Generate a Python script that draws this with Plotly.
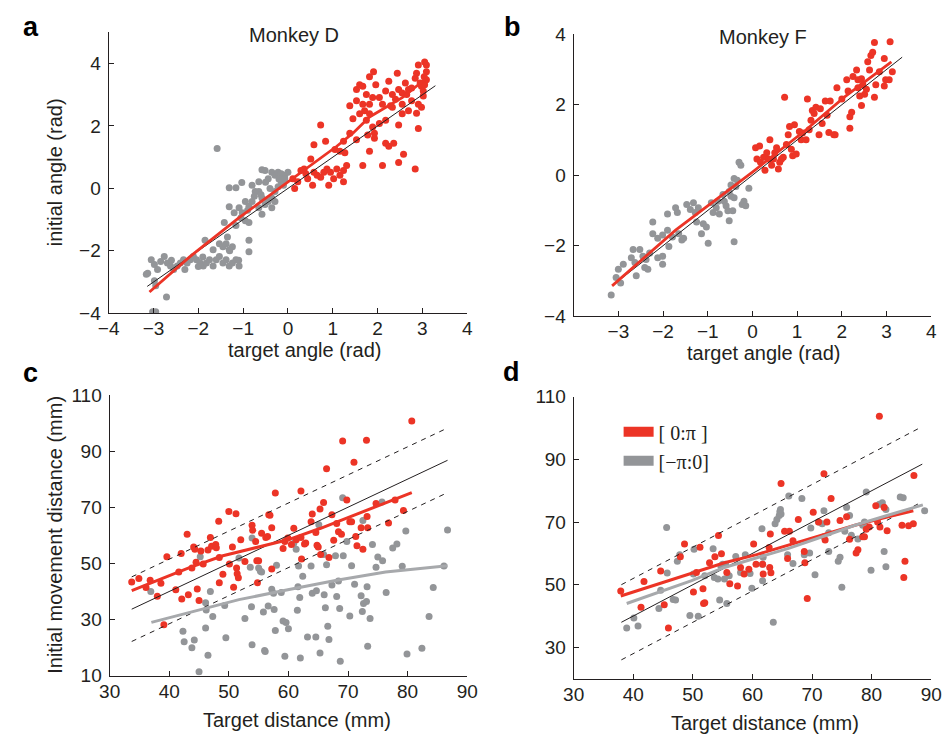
import plotly.graph_objects as go

# ---------------- Panel a (Monkey D, angles) ----------------
a_gray_x = [-1.58,-3.13,-3.16,-3.05,-2.98,-2.91,-2.84,-2.76,-2.69,-2.62,-2.55,-2.47,-2.40,-2.33,-2.25,-2.18,-2.11,-2.04,-1.96,-1.89,
            -1.82,-1.75,-1.67,-1.60,-1.53,-1.45,-1.38,-1.31,-1.24,-1.16,-1.09,-2.98,-2.95,-2.71,-3.02,-2.95,-1.85,-1.67,-1.53,-1.45,
            -1.38,-1.35,-1.31,-1.24,-1.42,-1.31,-1.20,-1.09,-1.02,-1.16,-1.05,-0.95,-0.87,-0.87,-0.87,-1.31,-1.16,-1.03,-0.80,-0.65,
            -0.58,-0.51,-0.44,-0.36,-0.29,-0.22,-0.15,-0.07,0.00,-0.65,-0.58,-0.51,-0.44,-0.36,-0.29,-0.22,-0.15,-0.07,-0.73,-0.80,
            -0.87,-0.65,-0.58,-0.36,-0.29,-0.95,-2.30,-2.00,-1.90,-1.30,-1.10,-2.60,-0.50,-0.40,-0.60,-0.20,-0.10,-0.75,-0.90]
a_gray_y = [1.28,-2.72,-2.75,-2.29,-2.44,-2.60,-2.34,-2.18,-2.39,-2.49,-2.60,-2.49,-2.39,-2.29,-2.39,-2.29,-2.18,-2.29,-2.39,-2.49,
            -2.39,-2.29,-2.49,-2.29,-2.18,-2.39,-2.29,-2.49,-2.39,-2.29,-2.49,-2.96,-3.12,-3.48,-3.95,-3.95,-1.66,-1.97,-1.77,-1.87,
            -1.77,-1.56,-1.97,-1.87,-1.09,-0.59,-0.78,-0.62,-0.78,-1.19,-0.94,-1.04,-1.09,-1.66,-2.03,0.02,0.02,0.19,0.10,0.21,
            0.60,0.57,0.31,0.52,0.42,0.52,0.47,0.42,0.52,-0.10,-0.31,-0.52,-0.42,-0.31,-0.10,0.05,0.21,0.31,-0.10,-0.42,
            -0.57,-0.62,-0.83,-0.62,-0.42,-0.42,-2.60,-2.50,-2.20,-2.00,-2.30,-2.30,0.20,0.00,-0.20,0.30,0.10,-0.25,-0.70]
a_red_x = [0.15,0.11,0.22,0.29,0.36,0.40,0.44,0.51,0.55,0.58,0.65,0.73,0.80,0.87,0.95,1.02,1.09,1.16,1.24,1.27,
           1.31,1.24,0.91,0.73,0.58,0.84,1.05,1.16,1.24,1.38,1.45,1.53,1.38,1.53,1.53,1.67,1.75,1.78,1.82,1.89,
           1.93,1.93,2.11,2.18,2.25,2.36,2.47,2.58,2.84,2.91,2.98,2.87,1.60,1.67,1.75,1.82,1.89,1.82,1.91,1.96,
           2.04,2.11,2.18,2.25,2.29,2.33,2.40,2.44,2.47,2.55,2.62,2.55,2.65,2.69,2.76,2.84,2.87,2.91,2.95,2.98,
           3.02,3.05,3.09,3.09,3.05,3.02,1.67,1.60,1.71,1.82,2.04,2.18,2.33,2.55,2.76,2.47,2.69,2.91,3.04,3.09]
a_red_y = [0.00,0.31,0.21,0.57,0.62,0.47,0.31,0.94,0.10,0.52,0.42,0.36,0.52,0.62,0.52,0.31,0.62,0.42,0.57,1.14,
           0.73,0.21,0.10,2.03,1.40,1.51,1.25,1.19,1.51,1.77,2.23,3.17,2.65,2.81,1.56,0.73,2.18,1.71,1.19,1.97,
           1.77,1.61,0.73,1.45,1.35,1.45,0.83,1.09,0.62,1.92,2.60,2.41,3.32,3.27,3.01,2.70,2.91,3.58,3.74,3.32,
           2.91,2.70,3.12,3.43,2.65,3.01,2.86,3.69,3.17,3.06,3.38,2.70,3.01,3.17,3.22,3.53,3.69,3.95,3.38,3.27,
           3.12,4.05,3.74,3.48,3.32,2.96,2.70,2.39,2.49,2.39,2.08,2.18,2.60,2.39,2.81,2.03,2.49,2.70,3.58,3.95]
a_fit_x = [-3.09,-2.18,-1.09,0.0,1.09,1.45,1.82,2.55,3.09]
a_fit_y = [-3.32,-2.18,-0.94,0.21,1.35,1.77,2.29,2.91,3.53]
a_unity = [-3.14, 3.29]

# ---------------- Panel b (Monkey F, angles) ----------------
b_gray_x = [-3.16,-3.05,-2.95,-3.00,-2.89,-2.67,-2.71,-2.63,-2.60,-2.52,-2.45,-2.38,-2.30,-2.41,-2.34,-2.23,-2.23,-2.12,-2.01,-2.12,
            -2.01,-2.01,-1.90,-1.90,-1.87,-1.79,-1.72,-1.68,-1.65,-1.58,-1.54,-1.47,-1.39,-1.32,-1.28,-1.25,-1.21,-1.14,-1.10,-1.03,
            -0.99,-0.92,-0.88,-0.81,-0.77,-0.74,-0.66,-0.63,-0.59,-0.52,-0.48,-0.55,-0.52,-0.44,-0.41,-0.41,-0.37,-0.34,-0.30,-0.26,
            -0.23,-0.19,-0.15,-0.08,-0.41,-0.48]
b_gray_y = [-3.40,-2.90,-3.06,-2.67,-2.53,-2.11,-2.34,-2.48,-2.85,-2.11,-2.30,-2.39,-2.21,-2.62,-2.67,-1.33,-1.66,-1.79,-1.70,-2.34,
            -2.30,-2.53,-1.10,-1.56,-2.02,-1.75,-0.92,-1.06,-1.66,-1.84,-1.79,-0.83,-0.97,-0.78,-1.06,-1.33,-0.92,-1.66,-1.38,-1.47,
            -1.93,-0.78,-1.06,-0.92,-0.74,-1.10,-0.55,-0.74,-0.87,-0.46,-0.60,-1.01,-1.29,-1.01,-1.89,-0.64,-0.32,-0.14,0.37,0.28,
            -0.83,-0.74,-0.87,-0.37,-0.09,-0.28]
b_red_x = [0.07,0.10,0.16,0.18,0.25,0.28,0.32,0.36,0.39,0.43,0.47,0.50,0.54,0.58,0.61,0.65,0.69,0.72,0.76,0.80,
           0.83,0.87,0.90,0.94,0.98,1.05,1.09,1.12,1.20,1.23,1.27,1.31,1.34,1.38,1.42,1.49,1.52,1.56,1.63,1.67,
           1.71,1.74,1.82,1.85,1.89,2.00,2.11,2.18,2.22,2.18,2.25,2.33,2.36,2.40,2.44,2.47,2.51,2.55,2.58,2.62,
           2.65,2.69,2.73,2.76,2.73,2.84,2.95,2.95,2.98,3.06,3.08,3.13,2.44,2.36,2.14]
b_red_y = [0.78,0.46,0.83,0.37,0.51,0.14,0.64,0.46,1.01,0.28,0.46,0.64,0.78,0.18,0.37,0.46,0.51,2.21,0.87,1.15,
           1.38,0.74,0.55,1.43,0.60,1.24,1.01,1.20,1.01,2.16,1.29,1.56,1.84,1.75,1.93,1.15,1.89,1.47,2.11,1.70,
           1.21,2.11,1.15,1.15,2.48,2.16,2.71,1.66,1.79,1.33,2.80,2.99,2.71,2.25,1.98,2.57,2.30,2.44,3.22,2.99,
           3.40,3.49,3.77,2.57,2.21,2.94,3.31,2.53,2.71,2.71,3.79,2.94,2.74,2.48,2.39]
b_fit_x = [-3.14,-1.72,0.0,1.2,2.07,3.11]
b_fit_y = [-3.14,-1.56,0.09,1.29,2.23,3.22]
b_unity = [-3.14, 3.35]

# ---------------- Panel c (Monkey D, distances) ----------------
c_red_x = [33.7,34.9,36.1,36.8,38.0,38.6,39.6,41.1,41.6,42.0,42.1,43.0,43.2,43.8,44.1,44.3,44.5,44.7,45.0,45.3,
           45.7,46.5,46.9,47.1,47.8,47.9,48.3,48.4,48.4,49.0,50.0,50.1,50.6,50.8,51.2,51.3,51.4,51.6,52.0,52.7,
           53.9,54.0,54.5,54.7,54.8,55.0,55.5,56.2,56.5,56.7,56.9,57.2,57.2,57.8,59.1,59.4,59.9,60.5,60.9,61.3,
           62.1,62.1,62.2,62.7,62.9,63.8,64.0,64.6,64.8,65.0,65.3,65.4,65.9,66.4,66.8,67.3,67.6,68.1,68.4,68.9,
           69.1,69.8,70.3,70.6,71.0,71.3,71.5,72.2,72.5,73.1,73.2,73.3,74.7,76.8,77.9,79.3,80.7,39.1]
c_red_y = [43.4,44.6,41.4,44.0,38.3,42.9,52.4,40.6,46.9,53.5,37.3,60.4,38.8,48.4,55.8,55.0,50.4,40.9,36.8,54.4,
           49.8,54.8,59.2,56.1,56.7,55.6,65.0,52.1,43.1,46.1,68.5,49.8,55.8,41.5,67.7,48.4,46.3,44.9,58.4,50.7,
           63.6,61.8,57.8,50.9,43.1,50.9,60.7,59.2,59.6,67.3,67.1,62.7,48.0,75.1,55.3,57.8,59.0,56.7,62.5,58.4,
           75.8,59.2,51.6,56.9,57.3,64.8,67.6,61.0,56.5,55.8,69.4,53.2,71.7,83.7,52.1,67.3,58.2,64.2,61.3,60.4,
           93.6,72.6,64.8,64.8,86.0,59.6,56.3,62.7,55.0,93.8,66.7,62.7,71.3,64.4,72.6,68.8,100.7,28.2]
c_gray_x = [36.9,45.2,46.1,46.2,46.1,46.5,46.9,47.3,42.3,42.5,43.8,44.2,45.0,49.3,49.5,51.7,52.7,53.6,53.8,53.9,
            53.9,55.0,55.3,55.5,55.8,56.0,56.1,56.6,57.2,57.5,57.6,57.8,58.0,58.8,59.1,59.4,59.6,60.0,60.9,61.3,
            61.5,61.6,61.7,61.9,62.0,62.4,63.2,63.8,64.0,64.6,64.7,65.1,65.3,65.9,66.0,66.2,66.4,66.6,66.8,67.3,
            67.9,68.1,68.4,68.6,68.7,69.2,69.8,70.3,70.6,71.1,72.2,72.4,72.5,72.6,73.1,73.2,73.3,73.7,74.1,74.7,
            75.0,75.7,75.8,76.4,77.5,78.2,79.1,79.7,79.9,82.4,83.6,84.3,86.1,86.7,69.1]
c_gray_y = [40.0,52.4,36.0,33.4,27.0,17.3,40.0,31.1,25.8,22.1,20.0,22.7,11.4,35.0,23.5,51.9,30.4,48.6,34.6,59.0,
            21.0,48.4,47.2,46.9,32.7,19.0,18.6,34.8,40.8,39.4,33.6,26.1,49.3,39.6,29.5,16.9,29.0,26.7,57.2,55.0,
            33.3,41.7,49.1,37.9,16.3,45.4,23.8,49.1,39.4,23.8,40.3,63.8,18.1,53.2,38.8,34.2,49.5,27.6,22.9,42.3,
            52.7,38.2,43.7,33.9,15.2,52.7,57.8,31.3,49.2,42.6,38.5,32.9,65.3,35.7,36.4,41.7,20.5,30.4,56.7,48.6,
            52.3,71.9,50.9,39.6,55.5,56.9,49.0,61.5,17.7,19.8,31.1,41.4,49.1,61.9,73.4]
c_fit_red_x = [33.7,38.0,43.5,49.0,54.5,59.9,65.4,70.9,76.3,80.7]
c_fit_red_y = [40.3,44.0,48.6,52.7,55.6,58.4,62.5,67.1,71.7,75.2]
c_fit_gray_x = [37.0,43.5,51.7,59.9,68.1,76.3,86.7]
c_fit_gray_y = [29.0,32.5,37.1,40.6,44.0,46.9,49.2]
c_unity = [33.7, 86.7]
c_upper = [45.2, 98.2]
c_lower = [22.2, 75.2]

# ---------------- Panel d (Monkey F, distances) ----------------
d_red_x = [37.9,41.3,41.8,44.6,45.2,45.9,47.9,48.6,50.1,50.6,51.2,51.7,51.8,52.0,52.8,53.7,54.3,54.8,55.7,56.2,
           57.5,58.0,58.6,59.4,60.2,60.6,61.7,61.8,62.8,62.9,63.0,63.1,64.8,65.4,65.9,66.2,66.8,67.7,68.7,68.8,
           69.2,70.2,71.1,72.0,72.2,72.5,73.2,74.7,75.8,76.3,77.4,77.7,78.5,78.8,79.1,79.6,80.7,81.3,81.4,82.1,
           82.6,85.1,85.4,85.6,86.2,87.0,87.1,81.0]
d_red_y = [48.0,42.8,51.0,54.4,43.6,36.2,58.9,63.0,47.7,53.9,62.0,48.7,44.0,44.2,57.0,58.9,65.7,59.9,53.9,50.3,
           49.6,55.5,53.4,54.9,63.0,56.5,56.5,53.4,61.9,55.5,66.2,53.8,82.3,67.1,58.4,67.1,64.0,70.8,60.6,57.0,
           45.6,73.1,70.0,85.4,64.3,70.0,77.5,70.5,71.7,64.5,60.1,61.2,65.3,65.3,67.7,68.4,75.2,103.8,68.4,74.7,
           67.2,69.0,52.3,57.5,68.8,69.5,84.9,70.0]
d_gray_x = [38.9,40.1,40.8,44.3,44.6,45.7,45.6,46.7,47.1,47.4,47.8,49.5,50.1,50.2,50.9,52.0,53.4,53.6,54.2,54.5,
            54.7,55.0,55.3,55.5,55.7,56.1,57.2,58.0,58.8,59.6,59.9,61.6,61.7,61.7,61.8,63.5,63.8,64.1,64.5,64.6,
            64.7,64.8,65.9,66.1,66.8,68.3,68.7,69.8,69.6,70.5,71.1,71.7,72.0,72.0,72.8,74.4,74.7,75.0,75.8,76.3,
            76.6,77.7,78.8,79.1,79.9,81.3,81.8,82.1,82.4,82.4,84.8,85.3,88.9,72.8,75.5,78.5]
d_gray_y = [36.2,39.4,36.8,42.4,48.2,53.7,68.3,45.3,45.1,57.5,59.6,40.2,53.4,61.3,39.9,52.9,61.5,52.3,51.8,45.1,
            56.0,56.5,51.8,56.5,44.0,52.9,59.0,53.9,59.6,53.6,48.9,67.9,56.5,51.3,58.8,38.0,69.5,70.8,72.1,73.3,
            74.0,72.6,59.6,78.3,56.8,77.5,59.6,68.1,60.1,53.2,70.0,69.5,73.6,65.3,60.6,57.5,58.8,49.2,74.7,72.1,
            65.8,64.6,70.0,79.6,54.6,75.7,76.2,60.6,55.7,74.0,78.0,77.8,73.6,66.6,67.1,69.0]
d_fit_red_x = [37.9,44.3,49.8,55.3,60.7,66.2,71.7,77.2,82.6,87.0]
d_fit_red_y = [46.4,50.3,53.4,57.0,59.6,62.7,65.8,69.0,71.6,73.6]
d_fit_gray_x = [38.9,44.3,49.8,55.3,60.7,66.2,71.7,77.2,82.6,88.6]
d_fit_gray_y = [44.0,47.7,51.3,55.5,58.6,61.7,65.3,69.0,72.1,75.5]
d_unity = [38.0, 88.5]
d_upper = [50.0, 100.5]
d_lower = [26.0, 76.5]

legend_labels = ["[ 0:\u03c0 ]", "[\u2212\u03c0:0]"]

RED = "#EC3426"
GRAY = "#939598"
INK = "#231F20"
FONT = "Liberation Sans, Arial, sans-serif"
MS = 7

fig = go.Figure()

def scatter(x, y, color, xa, ya):
    fig.add_trace(go.Scatter(x=x, y=y, mode="markers", xaxis=xa, yaxis=ya, showlegend=False,
                             marker=dict(color=color, size=MS, line=dict(width=0)), hoverinfo="skip"))

def line(x, y, color, width, xa, ya, dash="solid"):
    fig.add_trace(go.Scatter(x=x, y=y, mode="lines", xaxis=xa, yaxis=ya, showlegend=False,
                             line=dict(color=color, width=width, dash=dash), hoverinfo="skip"))

# a
scatter(a_gray_x, a_gray_y, GRAY, "x", "y")
scatter(a_red_x, a_red_y, RED, "x", "y")
line(a_unity, a_unity, INK, 1, "x", "y")
line(a_fit_x, a_fit_y, RED, 2.8, "x", "y")
# b
scatter(b_gray_x, b_gray_y, GRAY, "x2", "y2")
scatter(b_red_x, b_red_y, RED, "x2", "y2")
line(b_unity, b_unity, INK, 1, "x2", "y2")
line(b_fit_x, b_fit_y, RED, 2.8, "x2", "y2")
# c
scatter(c_gray_x, c_gray_y, GRAY, "x3", "y3")
scatter(c_red_x, c_red_y, RED, "x3", "y3")
line(c_unity, c_unity, INK, 1, "x3", "y3")
line(c_unity, c_upper, INK, 1, "x3", "y3", dash="5px,5px")
line(c_unity, c_lower, INK, 1, "x3", "y3", dash="5px,5px")
line(c_fit_red_x, c_fit_red_y, RED, 3, "x3", "y3")
line(c_fit_gray_x, c_fit_gray_y, "#A7A9AC", 3, "x3", "y3")
# d
scatter(d_gray_x, d_gray_y, GRAY, "x4", "y4")
scatter(d_red_x, d_red_y, RED, "x4", "y4")
line(d_unity, d_unity, INK, 1, "x4", "y4")
line(d_unity, d_upper, INK, 1, "x4", "y4", dash="5px,5px")
line(d_unity, d_lower, INK, 1, "x4", "y4", dash="5px,5px")
line(d_fit_red_x, d_fit_red_y, RED, 3, "x4", "y4")
line(d_fit_gray_x, d_fit_gray_y, "#A7A9AC", 3, "x4", "y4")

# legend entries
for lab, col in zip(legend_labels, [RED, GRAY]):
    fig.add_trace(go.Scatter(x=[None], y=[None], mode="lines", xaxis="x4", yaxis="y4", name=lab,
                             line=dict(color=col, width=10), showlegend=True))

W, H = 951, 747
def px_x(v): return v / W
def px_y(v): return 1 - v / H

axis_common = dict(showline=True, linecolor=INK, linewidth=1.2, ticks="inside", ticklen=5, tickwidth=1.2,
                   tickcolor=INK, showgrid=False, zeroline=False, mirror=False,
                   tickfont=dict(family=FONT, size=19, color=INK), fixedrange=True)
xcommon = dict(axis_common, ticklabelstandoff=-2)
ycommon = dict(axis_common, ticklabelstandoff=3)

fig.update_layout(
    width=W, height=H, margin=dict(l=0, r=0, t=0, b=0),
    paper_bgcolor="white", plot_bgcolor="white",
    font=dict(family=FONT, color=INK),
    xaxis=dict(domain=[px_x(100), px_x(467)], range=[-4, 4], tickvals=[-4,-3,-2,-1,0,1,2,3,4],
               ticktext=["\u22124","\u22123","\u22122","\u22121","0","1","2","3","4"], anchor="y", **xcommon),
    yaxis=dict(domain=[px_y(312), px_y(23)], range=[-4, 5], tickvals=[-4,-2,0,2,4],
               ticktext=["\u22124","\u22122","0","2","4"], anchor="x", **ycommon),
    xaxis2=dict(domain=[px_x(576), px_x(942)], range=[-4, 4], tickvals=[-3,-2,-1,0,1,2,3,4],
                ticktext=["\u22123","\u22122","\u22121","0","1","2","3","4"], anchor="y2", **xcommon),
    yaxis2=dict(domain=[px_y(315), px_y(25)], range=[-4, 4], tickvals=[-4,-2,0,2,4],
                ticktext=["\u22124","\u22122","0","2","4"], anchor="x2", **ycommon),
    xaxis3=dict(domain=[px_x(101), px_x(467)], range=[30, 90], tickvals=[30,40,50,60,70,80,90], anchor="y3", **xcommon),
    yaxis3=dict(domain=[px_y(685), px_y(396)], range=[10, 110], tickvals=[10,30,50,70,90,110], anchor="x3", **ycommon),
    xaxis4=dict(domain=[px_x(576), px_x(942)], range=[30, 90], tickvals=[30,40,50,60,70,80,90], anchor="y4", **xcommon),
    yaxis4=dict(domain=[px_y(688), px_y(398)], range=[20, 110], tickvals=[30,50,70,90,110], anchor="x4", **ycommon),
    legend=dict(x=px_x(622), y=px_y(414), xanchor="left", yanchor="top", bgcolor="rgba(0,0,0,0)",
                font=dict(family="Liberation Serif, Times New Roman, serif", size=20, color=INK),
                itemwidth=30, tracegroupgap=0),
)

def ann(text, x, y, size=20, bold=False, angle=0):
    fig.add_annotation(text=("<b>%s</b>" % text) if bold else text, x=px_x(x), y=px_y(y),
                       xref="paper", yref="paper", showarrow=False, textangle=angle,
                       font=dict(family=FONT, size=size, color="black" if bold else INK),
                       xanchor="center", yanchor="middle")

ann("a", 20, 18, 27, True)
ann("b", 513, 18, 27, True)
ann("c", 20, 373, 27, True)
ann("d", 512, 372, 27, True)
ann("Monkey D", 290, 26)
ann("Monkey F", 770, 28)
ann("initial angle (rad)", 45, 167, angle=-90)
ann("target angle (rad)", 300, 350)
ann("target angle (rad)", 770, 353)
ann("Initial movement distance (mm)", 45, 540, angle=-90)
ann("Target distance (mm)", 293, 731)
ann("Target distance (mm)", 772, 734)

fig.write_html("out.html")
